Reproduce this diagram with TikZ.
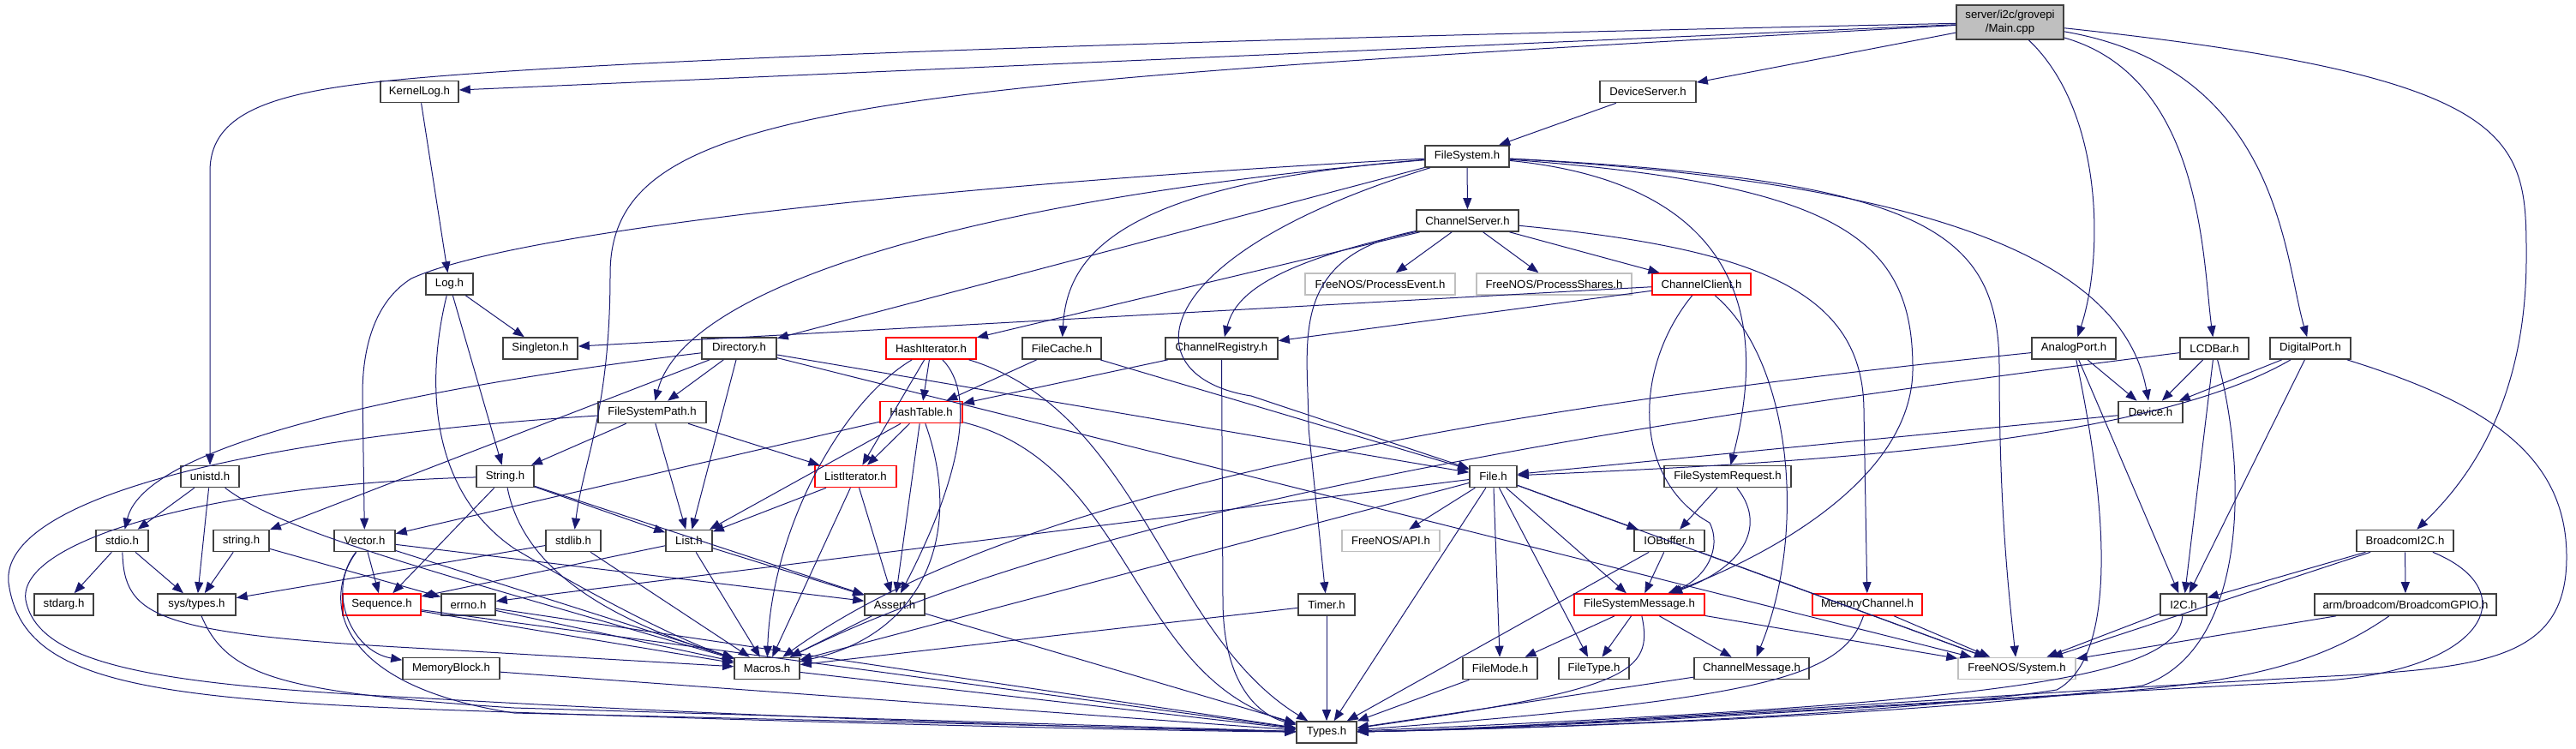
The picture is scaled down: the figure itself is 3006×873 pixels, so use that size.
\documentclass[tikz,border=0pt]{standalone}
\usepackage{fontspec}
\setmainfont{Liberation Sans}
\usetikzlibrary{arrows.meta}
\definecolor{edgeblue}{HTML}{191970}
\definecolor{boxgray}{HTML}{BFBFBF}
\definecolor{boxline}{HTML}{404040}

\begin{document}
\begin{tikzpicture}[>={Triangle[length=6.5pt,width=5pt]}, x=0.5pt, y=-0.5pt,
  hdr/.style={draw=boxline, line width=0.8pt, minimum height=12.5pt, inner sep=0pt,
    font=\fontsize{6.6}{8}\selectfont},
  redhdr/.style={hdr, draw=red},
  exthdr/.style={hdr, draw=boxgray},
  boxw/.style={minimum width=#1*0.5pt},
  dep/.style={->, edgeblue, line width=0.5pt}]

  %--- canvas (pixel grid of the graph, y downwards)
  \useasboundingbox (0,0) rectangle (3006,873);

  %--- top: the source file and its direct includes
  \node[hdr, fill=boxgray, align=center, boxw=125, minimum height=20pt] (main) at (2345.5,26) {server/i2c/grovepi\\/Main.cpp};
  \node[hdr, boxw=91]  (kernellog)  at (489.5,107)  {KernelLog.h};
  \node[hdr, boxw=112] (devserver)  at (1923,107)   {DeviceServer.h};
  \node[hdr, boxw=98]  (filesystem) at (1712,182.5) {FileSystem.h};
  \node[hdr, boxw=119] (chanserver) at (1712.5,257.5) {ChannelServer.h};

  %--- row 331
  \node[hdr, boxw=55]     (log)        at (524.5,331.5)  {Log.h};
  \node[exthdr, boxw=175] (procevent)  at (1610.5,331.5) {FreeNOS/ProcessEvent.h};
  \node[exthdr, boxw=181] (procshares) at (1813.5,331.5) {FreeNOS/ProcessShares.h};
  \node[redhdr, boxw=115] (chanclient) at (1985.5,331.5) {ChannelClient.h};

  %--- row 406
  \node[hdr, boxw=87]     (singleton) at (630.5,406.5)  {Singleton.h};
  \node[hdr, boxw=87]     (directory) at (862.5,406.5)  {Directory.h};
  \node[redhdr, boxw=105] (hashiter)  at (1086.5,406.5) {HashIterator.h};
  \node[hdr, boxw=92]     (filecache) at (1239,406.5)   {FileCache.h};
  \node[hdr, boxw=131]    (chanreg)   at (1425.5,406.5) {ChannelRegistry.h};
  \node[hdr, boxw=98]     (analog)    at (2420,406.5)   {AnalogPort.h};
  \node[hdr, boxw=80]     (lcdbar)    at (2584,406.5)   {LCDBar.h};
  \node[hdr, boxw=94]     (digital)   at (2696,406.5)   {DigitalPort.h};

  %--- row 481
  \node[hdr, boxw=126]   (fspath)    at (761,481)    {FileSystemPath.h};
  \node[redhdr, boxw=96] (hashtable) at (1075,481)   {HashTable.h};
  \node[hdr, boxw=75]    (device)    at (2509.5,481) {Device.h};

  %--- row 556
  \node[hdr, boxw=68]    (unistd)   at (245,556)    {unistd.h};
  \node[hdr, boxw=67]    (string)   at (589.5,556)  {String.h};
  \node[redhdr, boxw=95] (listiter) at (998.5,556)  {ListIterator.h};
  \node[hdr, boxw=55]    (file)     at (1742.5,556) {File.h};
  \node[hdr, boxw=148]   (fsreq)    at (2016,556)   {FileSystemRequest.h};

  %--- row 631
  \node[hdr, boxw=61]     (stdio)    at (142.5,631)  {stdio.h};
  \node[hdr, boxw=65]     (cstring)  at (281.5,631)  {string.h};
  \node[hdr, boxw=71]     (vector)   at (425.5,631)  {Vector.h};
  \node[hdr, boxw=64]     (stdlib)   at (669,631)    {stdlib.h};
  \node[hdr, boxw=54]     (list)     at (804,631)    {List.h};
  \node[exthdr, boxw=114] (api)      at (1623,631)   {FreeNOS/API.h};
  \node[hdr, boxw=82]     (iobuffer) at (1948,631)   {IOBuffer.h};
  \node[hdr, boxw=113]    (bcmi2c)   at (2806.5,631) {BroadcomI2C.h};

  %--- row 706
  \node[hdr, boxw=69]     (stdarg)   at (74.5,705.5)  {stdarg.h};
  \node[hdr, boxw=91]     (systypes) at (229.5,705.5) {sys/types.h};
  \node[redhdr, boxw=91]  (sequence) at (445.5,705.5) {Sequence.h};
  \node[hdr, boxw=63]     (errno)    at (546.5,705.5) {errno.h};
  \node[hdr, boxw=70]     (assert)   at (1044,705.5)  {Assert.h};
  \node[hdr, boxw=66]     (timer)    at (1548,705.5)  {Timer.h};
  \node[redhdr, boxw=152] (fsmsg)    at (1913,705.5)  {FileSystemMessage.h};
  \node[redhdr, boxw=128] (memchan)  at (2179,705.5)  {MemoryChannel.h};
  \node[hdr, boxw=54]     (itwoc)    at (2548,705.5)  {I2C.h};
  \node[hdr, boxw=212]    (bcmgpio)  at (2807,705.5)  {arm/broadcom/BroadcomGPIO.h};

  %--- row 780 and the bottom
  \node[hdr, boxw=113]    (memblock) at (526.5,780)  {MemoryBlock.h};
  \node[hdr, boxw=76]     (macros)   at (895,780)    {Macros.h};
  \node[hdr, boxw=87]     (filemode) at (1750.5,780) {FileMode.h};
  \node[hdr, boxw=82]     (filetype) at (1860,780)   {FileType.h};
  \node[hdr, boxw=134]    (chanmsg)  at (2044,780)   {ChannelMessage.h};
  \node[exthdr, boxw=137] (system)   at (2353.5,780) {FreeNOS/System.h};
  \node[hdr, boxw=70]     (types)    at (1548,854.5) {Types.h};

  %--- plain include edges
  \foreach \a/\b in {main/kernellog, main/devserver, kernellog/log, devserver/filesystem,
      log/singleton, log/string, filesystem/chanserver, filesystem/directory,
      chanserver/procevent, chanserver/procshares, chanserver/chanclient, chanserver/hashiter,
      chanclient/singleton, chanclient/chanreg, directory/fspath, directory/list,
      directory/cstring, directory/file, directory/system, filecache/file, filecache/hashtable,
      chanreg/hashtable, hashiter/hashtable, hashiter/listiter, fspath/string, fspath/list,
      fspath/listiter, hashtable/listiter, hashtable/list, hashtable/vector, hashtable/assert,
      analog/device, analog/itwoc, lcdbar/device, lcdbar/itwoc, digital/device, digital/itwoc,
      device/file, unistd/stdio, unistd/systypes, string/list, string/sequence, string/assert,
      listiter/list, listiter/assert, listiter/macros, file/api, file/types, file/filemode,
      file/filetype, file/fsmsg, file/iobuffer, file/errno, file/system, file/macros,
      fsreq/iobuffer, stdio/stdarg, stdio/systypes, cstring/systypes, cstring/errno,
      vector/sequence, vector/assert, vector/macros, stdlib/systypes, stdlib/macros,
      list/sequence, list/assert, list/macros, iobuffer/fsmsg, iobuffer/types, iobuffer/system,
      bcmi2c/itwoc, bcmi2c/bcmgpio, bcmi2c/system, sequence/macros, sequence/types,
      errno/macros, errno/types, assert/macros, assert/types, timer/macros, timer/types,
      fsmsg/filemode, fsmsg/filetype, fsmsg/chanmsg, fsmsg/system, memchan/system,
      itwoc/system, bcmgpio/system, memblock/types, macros/types, filemode/types, chanmsg/types}
    \draw[dep] (\a) -- (\b);

  %--- long edges from the source file
  \draw[dep] (main) .. controls (1200,50) and (600,75) .. (420,98) .. controls (300,113) and (245,140) .. (245,200) -- (unistd);
  \draw[dep] (main) .. controls (1000,100) and (712,120) .. (712,320) .. controls (712,480) and (680,540) .. (stdlib);
  \draw[dep] (main) .. controls (2455,130) and (2455,300) .. (analog);
  \draw[dep] (main) .. controls (2570,90) and (2570,300) .. (lcdbar);
  \draw[dep] (main) .. controls (2660,80) and (2665,300) .. (digital);
  \draw[dep] (main) .. controls (2945,90) and (2948,160) .. (2948,300) .. controls (2948,470) and (2880,560) .. (bcmi2c);

  %--- bent edges in the middle
  \draw[dep] (log) .. controls (498,440) and (498,570) .. (600,640) .. controls (700,700) and (800,750) .. (macros);
  \draw[dep] (filesystem) .. controls (1100,215) and (600,270) .. (480,325) .. controls (440,350) and (423,400) .. (423,460) -- (vector);
  \draw[dep] (filesystem) .. controls (1150,230) and (800,330) .. (fspath);
  \draw[dep] (filesystem) .. controls (1300,215) and (1245,300) .. (filecache);
  \draw[dep] (filesystem) .. controls (1330,300) and (1320,440) .. (1460,462) -- (file);
  \draw[dep] (filesystem) .. controls (1990,210) and (2075,330) .. (fsreq);
  \draw[dep] (filesystem) .. controls (2150,215) and (2232,280) .. (2232,430) .. controls (2232,560) and (2060,650) .. (fsmsg);
  \draw[dep] (filesystem) .. controls (2250,210) and (2333,270) .. (2333,430) .. controls (2333,600) and (2345,700) .. (system);
  \draw[dep] (filesystem) .. controls (2300,215) and (2480,320) .. (device);
  \draw[dep] (chanserver) .. controls (1500,300) and (1527,400) .. (1527,500) -- (timer);
  \draw[dep] (chanserver) .. controls (1470,310) and (1440,350) .. (chanreg);
  \draw[dep] (chanserver) .. controls (2050,290) and (2175,340) .. (2175,480) -- (memchan);
  \draw[dep] (chanclient) .. controls (2090,420) and (2110,620) .. (chanmsg);
  \draw[dep] (chanclient) .. controls (1905,430) and (1905,560) .. (1995,610) .. controls (2010,640) and (1990,675) .. (fsmsg);
  \draw[dep] (fsreq) .. controls (2060,610) and (2040,660) .. (fsmsg);
  \draw[dep] (hashiter) .. controls (1140,460) and (1120,560) .. (assert);
  \draw[dep] (hashiter) .. controls (980,470) and (900,620) .. (macros);
  \draw[dep] (hashiter) .. controls (1330,480) and (1360,740) .. (types);
  \draw[dep] (hashtable) .. controls (1320,540) and (1320,790) .. (types);
  \draw[dep] (hashtable) .. controls (1125,620) and (1080,740) .. (macros);
  \draw[dep] (chanreg.south) -- (1427,700) .. controls (1427,800) and (1470,835) .. (types);
  \draw[dep] (string) .. controls (610,660) and (700,720) .. (macros);
  \draw[dep] (unistd) .. controls (330,620) and (480,660) .. (macros);
  \draw[dep] (directory) .. controls (500,450) and (170,515) .. (stdio);

  %--- loops round the left side
  \draw[dep] (fspath) .. controls (300,510) and (0,580) .. (10,680) .. controls (25,790) and (150,815) .. (510,828) .. controls (900,842) and (1300,852) .. (types);
  \draw[dep] (string) .. controls (250,565) and (20,630) .. (30,700) .. controls (45,780) and (200,800) .. (500,815) .. controls (900,838) and (1300,850) .. (types);
  \draw[dep] (stdio) .. controls (145,720) and (180,740) .. (500,757) -- (macros);
  \draw[dep] (systypes) .. controls (265,790) and (330,808) .. (600,826) -- (types);
  \draw[dep] (vector) .. controls (375,700) and (390,800) .. (600,832) -- (types);
  \draw[dep] (vector) .. controls (380,690) and (410,760) .. (memblock);

  %--- right side, down to Types.h and Macros.h
  \draw[dep] (memchan) .. controls (2150,790) and (2060,815) .. (types);
  \draw[dep] (fsmsg) .. controls (1930,785) and (1900,805) .. (types);
  \draw[dep] (analog) .. controls (1800,470) and (1200,560) .. (macros);
  \draw[dep] (lcdbar) .. controls (2000,480) and (1300,580) .. (macros);
  \draw[dep] (digital) .. controls (2500,520) and (2100,540) .. (file);
  \draw[dep] (analog) .. controls (2465,620) and (2465,770) .. (2400,805) .. controls (2200,835) and (1800,850) .. (types);
  \draw[dep] (lcdbar) .. controls (2625,560) and (2620,760) .. (2500,800) .. controls (2250,835) and (1800,850) .. (types);
  \draw[dep] (itwoc) .. controls (2540,790) and (2350,820) .. (types);
  \draw[dep] (digital) .. controls (2900,470) and (2995,530) .. (2995,650) .. controls (2995,770) and (2900,780) .. (2700,790) .. controls (2300,812) and (1800,850) .. (types);
  \draw[dep] (bcmi2c) .. controls (2950,690) and (2900,785) .. (2700,795) .. controls (2300,815) and (1800,850) .. (types);
  \draw[dep] (bcmgpio) .. controls (2700,780) and (2600,800) .. (2400,812) .. controls (2100,830) and (1800,850) .. (types);
\end{tikzpicture}
\end{document}
